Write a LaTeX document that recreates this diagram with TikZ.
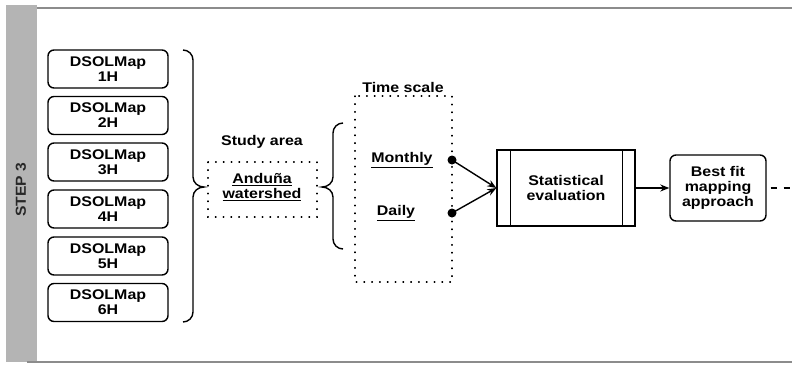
\documentclass[tikz,border=0pt]{standalone}
\usepackage{fontspec}
\usetikzlibrary{arrows.meta,calc}
\newfontfamily\lblfont[FakeStretch=1.14]{Liberation Sans}
\newfontfamily\stepfont[FakeStretch=1.08]{Liberation Sans}
\definecolor{bandgray}{RGB}{180,180,180}
\definecolor{framegray}{RGB}{140,140,140}
\definecolor{steptext}{RGB}{40,40,40}
\begin{document}
\begin{tikzpicture}[x=1pt,y=-1pt,
  lbl/.style={font=\lblfont\bfseries\fontsize{14}{14.8}\selectfont, align=center, inner sep=0pt},
  mapbox/.style={lbl, draw, line width=1.4pt, rounded corners=6pt, minimum width=120pt, minimum height=38pt},
  dotbox/.style={draw, line width=1.4pt, dash pattern=on 0.6pt off 7.2pt, line cap=round},
  conn/.style={line width=1.4pt, -{Stealth[length=9pt,width=7pt]}},
  bracestyle/.style={line width=1.4pt},
  pin/.style={circle, fill=black, inner sep=0pt, minimum size=9pt}]
\useasboundingbox (0,0) rectangle (792,365);
\fill[white] (0,0) rectangle (792,365);

% side band and frame
\fill[bandgray] (6,5) rectangle (37,362);
\draw[framegray, line width=1.2pt] (37,8) -- (792,8);
\draw[framegray, line width=1.2pt] (27,362) -- (792,362);
\node[rotate=90, text=steptext, font=\stepfont\bfseries\fontsize{14.5}{16}\selectfont] (step) at (21,190) {STEP 3};

% hourly maps
\foreach \i/\y in {1/69, 2/115.5, 3/162, 4/209, 5/256, 6/302.5}{
  \node[mapbox] (map\i) at (108,\y) {DSOLMap\\\i H};
}

% brace grouping the maps
\coordinate (rbtop) at (183,50);
\coordinate (rbtip) at (204,187);
\coordinate (rbbot) at (183,322);
\draw[bracestyle] (rbtop) to[out=0,in=90] (193,60) -- (193,177)
  to[out=-90,in=180] (rbtip) to[out=180,in=90] (193,197) -- (193,312)
  to[out=-90,in=0] (rbbot);

% study area
\node[lbl] (studyhead) at (262,142) {Study area};
\draw[dotbox] (208,162) rectangle (317,217);
\node[lbl] (study) at (262,187) {\underline{Andu\~na}\\\underline{watershed}};

% brace opening the time scales
\coordinate (lbtip) at (322,187);
\draw[bracestyle] (343,123) to[out=180,in=90] (333,133) -- (333,177)
  to[out=-90,in=0] (lbtip) to[out=0,in=90] (333,197) -- (333,239)
  to[out=-90,in=180] (343,249);

% time scale
\node[lbl] (timehead) at (403,87) {Time scale};
\draw[dotbox] (355,96) rectangle (452,282);
\node[lbl] (monthly) at (402,160) {\underline{Monthly}};
\node[lbl] (daily) at (396,213) {\underline{Daily}};
\node[pin] (pm) at (452,160) {};
\node[pin] (pd) at (452,213) {};

% statistical evaluation
\node[lbl, draw, line width=1.4pt, minimum width=138pt, minimum height=76pt] (stat) at (566,188) {Statistical\\evaluation};
\draw[line width=1.4pt] ($(stat.north west)+(14,0)$) -- ($(stat.south west)+(14,0)$);
\draw[line width=1.4pt] ($(stat.north east)+(-13,0)$) -- ($(stat.south east)+(-13,0)$);
\draw[conn] (pm.center) -- (stat.west);
\draw[conn] (pd.center) -- (stat.west);

% best fit
\node[lbl, draw, line width=1.4pt, rounded corners=6pt, minimum width=96pt, minimum height=66pt] (best) at (718,188) {Best fit\\mapping\\approach};
\draw[conn] (stat.east) -- (best.west);
\coordinate (outend) at (792,188);
\draw[line width=1.4pt, dash pattern=on 6pt off 7pt] ([xshift=4pt]best.east) -- (outend);
\end{tikzpicture}
\end{document}
